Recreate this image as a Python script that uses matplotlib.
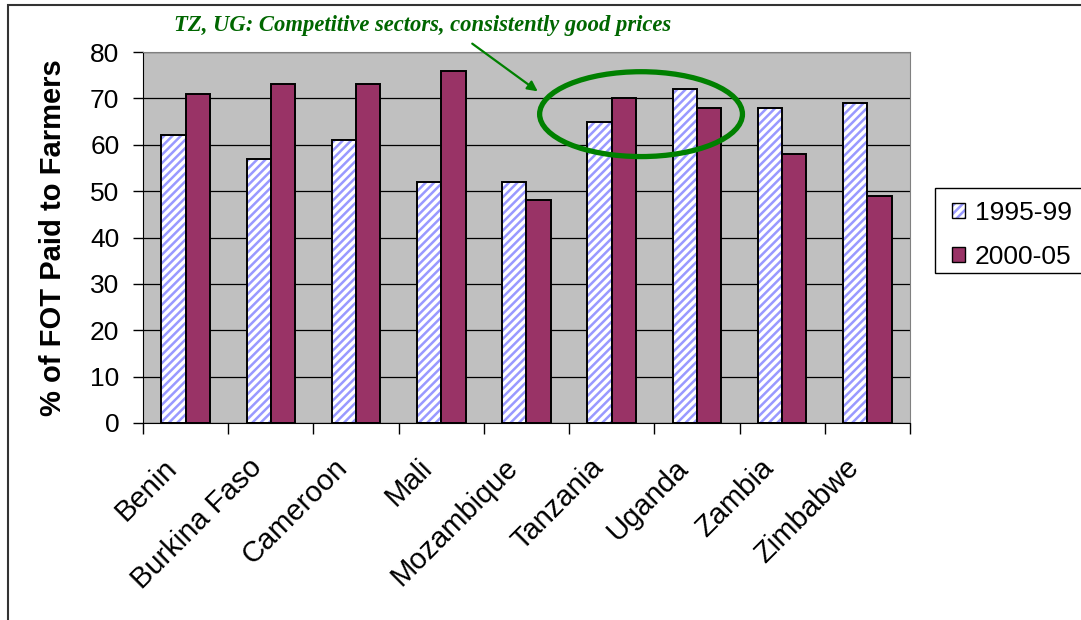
import numpy as np
import matplotlib
matplotlib.use("Agg")
import matplotlib.pyplot as plt
from matplotlib.patches import Ellipse, Rectangle, Patch
from matplotlib.transforms import ScaledTranslation

countries = ["Benin", "Burkina Faso", "Cameroon", "Mali", "Mozambique",
             "Tanzania", "Uganda", "Zambia", "Zimbabwe"]
share_9599 = [62, 57, 61, 52, 52, 65, 72, 68, 69]
share_0005 = [71, 73, 73, 76, 48, 70, 68, 58, 49]
series_labels = ["1995-99", "2000-05"]
note = "TZ, UG: Competitive sectors, consistently good prices"

HATCH_BLUE = "#9999FF"
PLUM = "#993366"
GREEN = "#008000"

plt.rcParams["font.family"] = ["Liberation Sans", "DejaVu Sans"]
plt.rcParams["hatch.linewidth"] = 1.8
plt.rcParams["hatch.color"] = HATCH_BLUE

W, H = 1081, 620
fig = plt.figure(figsize=(W / 100, H / 100), dpi=100)

# outer frame of the original slide object
fig.patches.append(Rectangle((8 / W, -0.01), 1.1, (H - 5) / H + 0.01, transform=fig.transFigure,
                             fill=False, edgecolor="#333333", lw=1.5))

ax = fig.add_axes([143 / W, (H - 423) / H, (910 - 143) / W, (423 - 52) / H])
ax.set_facecolor("#C0C0C0")

x = np.arange(len(countries))
bw = 0.285
# hatched bars: white fill with blue hatch, then black outline on top
ax.bar(x - bw / 2, share_9599, bw, color="white", hatch="////", edgecolor=HATCH_BLUE,
       lw=0, zorder=3)
ax.bar(x - bw / 2, share_9599, bw, fill=False, edgecolor="black", lw=1.4, zorder=4)
ax.bar(x + bw / 2, share_0005, bw, color=PLUM, edgecolor="black", lw=1.4, zorder=4)

ax.set_xlim(-0.5, len(countries) - 0.5)
ax.set_ylim(0, 80)
ax.set_yticks(range(0, 81, 10))
ax.yaxis.grid(True, color="black", lw=0.9)
ax.set_axisbelow(True)
ax.tick_params(axis="y", labelsize=19, length=7, width=1, direction="out", pad=10)
ax.set_ylabel("% of FOT Paid to Farmers", fontsize=21, fontweight="bold")
ax.yaxis.set_label_coords(-0.099, 0.5)

# category ticks sit between groups, labels at group centres
ax.set_xticks(np.arange(-0.5, len(countries)), minor=False)
ax.set_xticklabels([])
ax.set_xticks(x, minor=True)
ax.set_xticklabels(countries, minor=True, rotation=45, ha="right", va="top",
                   rotation_mode="anchor", fontsize=21)
ax.tick_params(axis="x", which="major", length=8, width=1, direction="out")
ax.tick_params(axis="x", which="minor", length=0, pad=22)
shift = ScaledTranslation(-23 / 100, 0, fig.dpi_scale_trans)
for lbl in ax.get_xticklabels(minor=True):
    lbl.set_transform(lbl.get_transform() + shift)

for side in ["top", "right"]:
    ax.spines[side].set_color("#808080")
ax.spines["left"].set_color("black")
ax.spines["bottom"].set_color("black")

# annotation: ellipse around Tanzania/Uganda and arrow from the note
ax.add_patch(Ellipse((5.344, 66.6), 2.38, 18.3, fill=False, edgecolor=GREEN, lw=3.8, zorder=6,
                     clip_on=False))
fig.text(423 / W, 1 - 25 / H, note, color="#006600", fontsize=16.3, fontweight="bold",
         fontstyle="italic", family=["Liberation Serif", "DejaVu Serif"], ha="center", va="center")
ax.annotate("", xy=(540 / W, 1 - 93 / H), xycoords="figure fraction",
            xytext=(470 / W, 1 - 42 / H), textcoords="figure fraction",
            arrowprops=dict(arrowstyle="-|>", color=GREEN, lw=1.6, mutation_scale=15))

# legend: frame drawn by hand so it runs off the right edge like the original
fig.patches.append(Rectangle((935 / W, 1 - 273 / H), 200 / W, 85 / H, transform=fig.transFigure,
                             facecolor="white", edgecolor="black", lw=1, zorder=1))
hatched = (Patch(facecolor="white", hatch="////", edgecolor=HATCH_BLUE, lw=0),
           Patch(fill=False, edgecolor="black", lw=1))
handles = [hatched, Patch(facecolor=PLUM, edgecolor="black", lw=1)]
leg = fig.legend(handles, series_labels, loc="center left",
                 bbox_to_anchor=(931 / W, 1 - 235 / H), fontsize=19, frameon=False,
                 handlelength=0.5, handleheight=0.5, handletextpad=0.35,
                 labelspacing=0.75, borderpad=0.3)

fig.savefig("out.png", dpi=100)
